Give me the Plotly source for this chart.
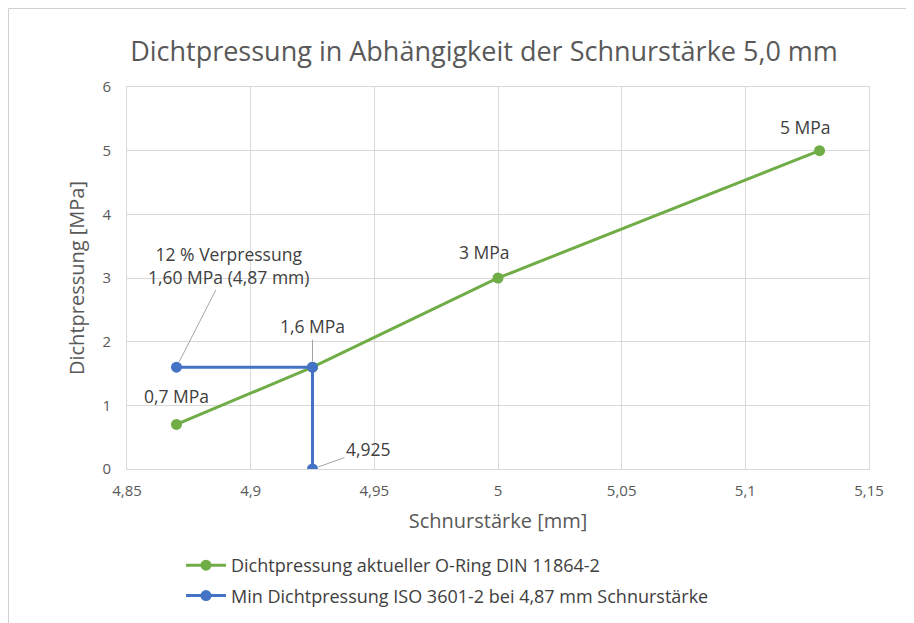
import plotly.graph_objects as go

# Data
green_x = [4.87, 4.925, 5.0, 5.13]
green_y = [0.7, 1.6, 3.0, 5.0]
green_labels = ["0,7 MPa", "1,6 MPa", "3 MPa", "5 MPa"]
blue_x = [4.87, 4.925, 4.925]
blue_y = [1.6, 1.6, 0.0]
x_ticks = [4.85, 4.9, 4.95, 5.0, 5.05, 5.1, 5.15]
x_tick_labels = ["4,85", "4,9", "4,95", "5", "5,05", "5,1", "5,15"]
y_ticks = [0, 1, 2, 3, 4, 5, 6]

GREEN = "#70AD47"
BLUE = "#4472C4"
FONT = "Open Sans"
OFF = 8  # default page margin of the body
W, H = 914 - OFF, 623 - OFF
L, R, T, B = 127 - OFF, 45, 87 - OFF, 154
PW, PH = W - L - R, H - T - B


def px(sx):  # screen x -> paper x
    return (sx - OFF - L) / PW


def py(sy):  # screen y -> paper y
    return (H - B - (sy - OFF)) / PH


fig = go.Figure()
fig.add_trace(go.Scatter(x=green_x, y=green_y, mode="lines+markers",
                         name="Dichtpressung aktueller O-Ring DIN 11864-2",
                         legendgroup="g1",
                         line=dict(color=GREEN, width=3),
                         marker=dict(color=GREEN, size=11)))
fig.add_trace(go.Scatter(x=blue_x, y=blue_y, mode="lines+markers",
                         name="Min Dichtpressung ISO 3601-2 bei 4,87 mm Schnurstärke",
                         legendgroup="g2",
                         line=dict(color=BLUE, width=3),
                         marker=dict(color=BLUE, size=11)))

lab_font = dict(family=FONT, size=17.5, color="#404040")
# data labels of green series
offsets = [(0, 28, False), (0, -41, True), (-14, 26, False), (-14, 24, False)]
for (x, y, t, (dx, dy, arrow)) in zip(green_x, green_y, green_labels, offsets):
    if arrow:
        fig.add_annotation(x=x, y=y, text=t, showarrow=True, ax=dx, ay=dy,
                           arrowhead=0, arrowwidth=1, arrowcolor="#a6a6a6",
                           standoff=6, font=lab_font)
    else:
        fig.add_annotation(x=x, y=y, text=t, showarrow=False, xshift=dx, yshift=dy,
                           font=lab_font)

fig.add_annotation(x=blue_x[0], y=blue_y[0], text="12 % Verpressung<br>1,60 MPa (4,87 mm)",
                   showarrow=True, ax=52, ay=-102, arrowhead=0, arrowwidth=1,
                   arrowcolor="#a6a6a6", standoff=6, font=lab_font)
fig.add_annotation(x=blue_x[2], y=blue_y[2], text="4,925",
                   showarrow=True, ax=56, ay=-20, arrowhead=0, arrowwidth=1,
                   arrowcolor="#a6a6a6", standoff=6, font=lab_font)

# outer frame lines (top and left edge of the chart area)
fig.add_shape(type="line", xref="paper", yref="paper",
              x0=px(8.5), x1=px(914), y0=py(8.5), y1=py(8.5),
              line=dict(color="#d0d0d0", width=1))
fig.add_shape(type="line", xref="paper", yref="paper",
              x0=px(8.5), x1=px(8.5), y0=py(8.5), y1=py(623),
              line=dict(color="#d0d0d0", width=1))

fig.update_layout(
    width=W, height=H,
    margin=dict(l=L, r=R, t=T, b=B, autoexpand=False),
    paper_bgcolor="white", plot_bgcolor="white",
    title=dict(text="Dichtpressung in Abhängigkeit der Schnurstärke 5,0 mm",
               x=(484 - OFF) / W, xanchor="center", y=1 - (52 - OFF) / H, yanchor="middle",
               font=dict(family=FONT, size=27, color="#595959")),
    font=dict(family=FONT, color="#595959"),
    showlegend=True,
    legend=dict(orientation="v", x=px(181), xanchor="left",
                y=py(547), yanchor="top", itemwidth=40,
                font=dict(family=FONT, size=18, color="#404040"),
                bgcolor="rgba(0,0,0,0)", tracegroupgap=4),
)
fig.update_xaxes(range=[4.85, 5.15], tickvals=x_ticks, ticktext=x_tick_labels,
                 automargin=False,
                 showgrid=True, gridcolor="#d9d9d9", gridwidth=1,
                 showline=True, linecolor="#d9d9d9", mirror=True, zeroline=False,
                 ticks="", ticklabelstandoff=8,
                 tickfont=dict(family=FONT, size=15, color="#595959"),
                 title=dict(text="Schnurstärke [mm]", standoff=14,
                            font=dict(family=FONT, size=20, color="#595959")))
fig.update_yaxes(range=[0, 6], tickvals=y_ticks,
                 automargin=False,
                 showgrid=True, gridcolor="#d9d9d9", gridwidth=1,
                 showline=True, linecolor="#d9d9d9", mirror=True, zeroline=False,
                 ticks="", ticklabelstandoff=12,
                 tickfont=dict(family=FONT, size=15, color="#595959"),
                 title=dict(text="Dichtpressung [MPa]", standoff=12,
                            font=dict(family=FONT, size=20, color="#595959")))

fig.write_html("out.html")
